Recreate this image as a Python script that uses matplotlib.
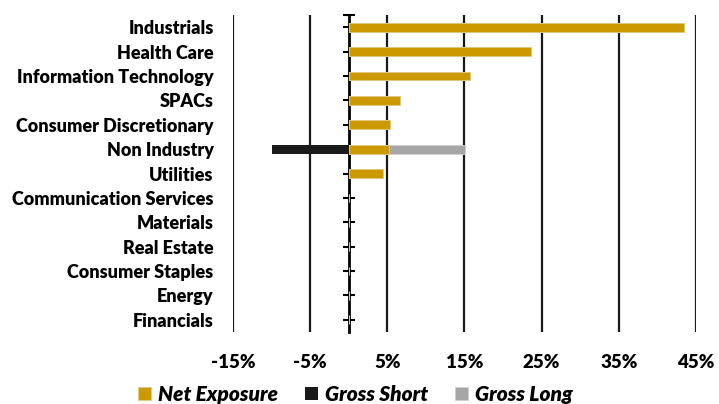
import numpy as np
import matplotlib.pyplot as plt

# data (percent), listed top to bottom
categories = ["Industrials", "Health Care", "Information Technology", "SPACs",
              "Consumer Discretionary", "Non Industry", "Utilities",
              "Communication Services", "Materials", "Real Estate",
              "Consumer Staples", "Energy", "Financials"]
net_exposure = [43.4, 23.6, 15.7, 6.7, 5.4, 5.2, 4.5, 0, 0, 0, 0, 0, 0]
gross_short = [0, 0, 0, 0, 0, -9.9, 0, 0, 0, 0, 0, 0, 0]
gross_long = [43.4, 23.6, 15.7, 6.7, 5.4, 15.1, 4.5, 0, 0, 0, 0, 0, 0]
xticks = [-15, -5, 5, 15, 25, 35, 45]

gold = "#cc9900"
black = "#1a1a1a"
grey = "#a6a6a6"

plt.rcParams["font.family"] = ["Lato", "DejaVu Sans"]
plt.rcParams["font.weight"] = "heavy"

fig = plt.figure(figsize=(7.19, 4.04), dpi=100)
ax = fig.add_axes([0.324, 0.178, 0.644, 0.785])

n = len(categories)
y = np.arange(n)[::-1]
h = 0.36

ax.barh(y, gross_long, height=h, color=grey, edgecolor="#cfcfcf", linewidth=0.6,
        label="Gross Long", zorder=3)
ax.barh(y, net_exposure, height=h, color=gold, edgecolor="#e3cc88", linewidth=0.6,
        label="Net Exposure", zorder=4)
ax.barh(y, gross_short, height=h, color=black, linewidth=0,
        label="Gross Short", zorder=4)

ax.set_xlim(-15, 45)
ax.set_ylim(-0.5, n - 0.5)
ax.set_xticks(xticks)
ax.set_xticklabels([f"{v}%" for v in xticks], fontsize=13.5, fontweight="heavy")
ax.tick_params(axis="x", length=0, pad=16)
ax.set_yticks(y)
ax.set_yticklabels(categories, fontsize=13, fontweight="heavy")
ax.tick_params(axis="y", length=0, pad=14)
ax.grid(axis="x", color="#1a1a1a", linewidth=1.6, zorder=1)
ax.set_axisbelow(True)
for s in ax.spines.values():
    s.set_visible(False)

# zero axis with tick marks
zero_pos = (0 - ax.get_xlim()[0]) / (ax.get_xlim()[1] - ax.get_xlim()[0])
sec = ax.secondary_yaxis(zero_pos)
sec.set_yticks(list(y) + [n - 0.5])
sec.set_yticklabels([])
sec.tick_params(direction="inout", length=8, width=1.5, color="black")
sec.spines["left"].set_linewidth(2)
sec.spines["left"].set_color("black")

handles, labels = ax.get_legend_handles_labels()
order = [1, 2, 0]
fig.legend([handles[i] for i in order], [labels[i] for i in order],
           loc="center", bbox_to_anchor=(0.494, 0.024), ncol=3, frameon=False,
           prop={"size": 15, "weight": "heavy", "style": "italic"},
           handlelength=0.65, handleheight=0.65, handletextpad=0.3,
           columnspacing=1.3, borderaxespad=0)

fig.savefig("out.png", dpi=100)
